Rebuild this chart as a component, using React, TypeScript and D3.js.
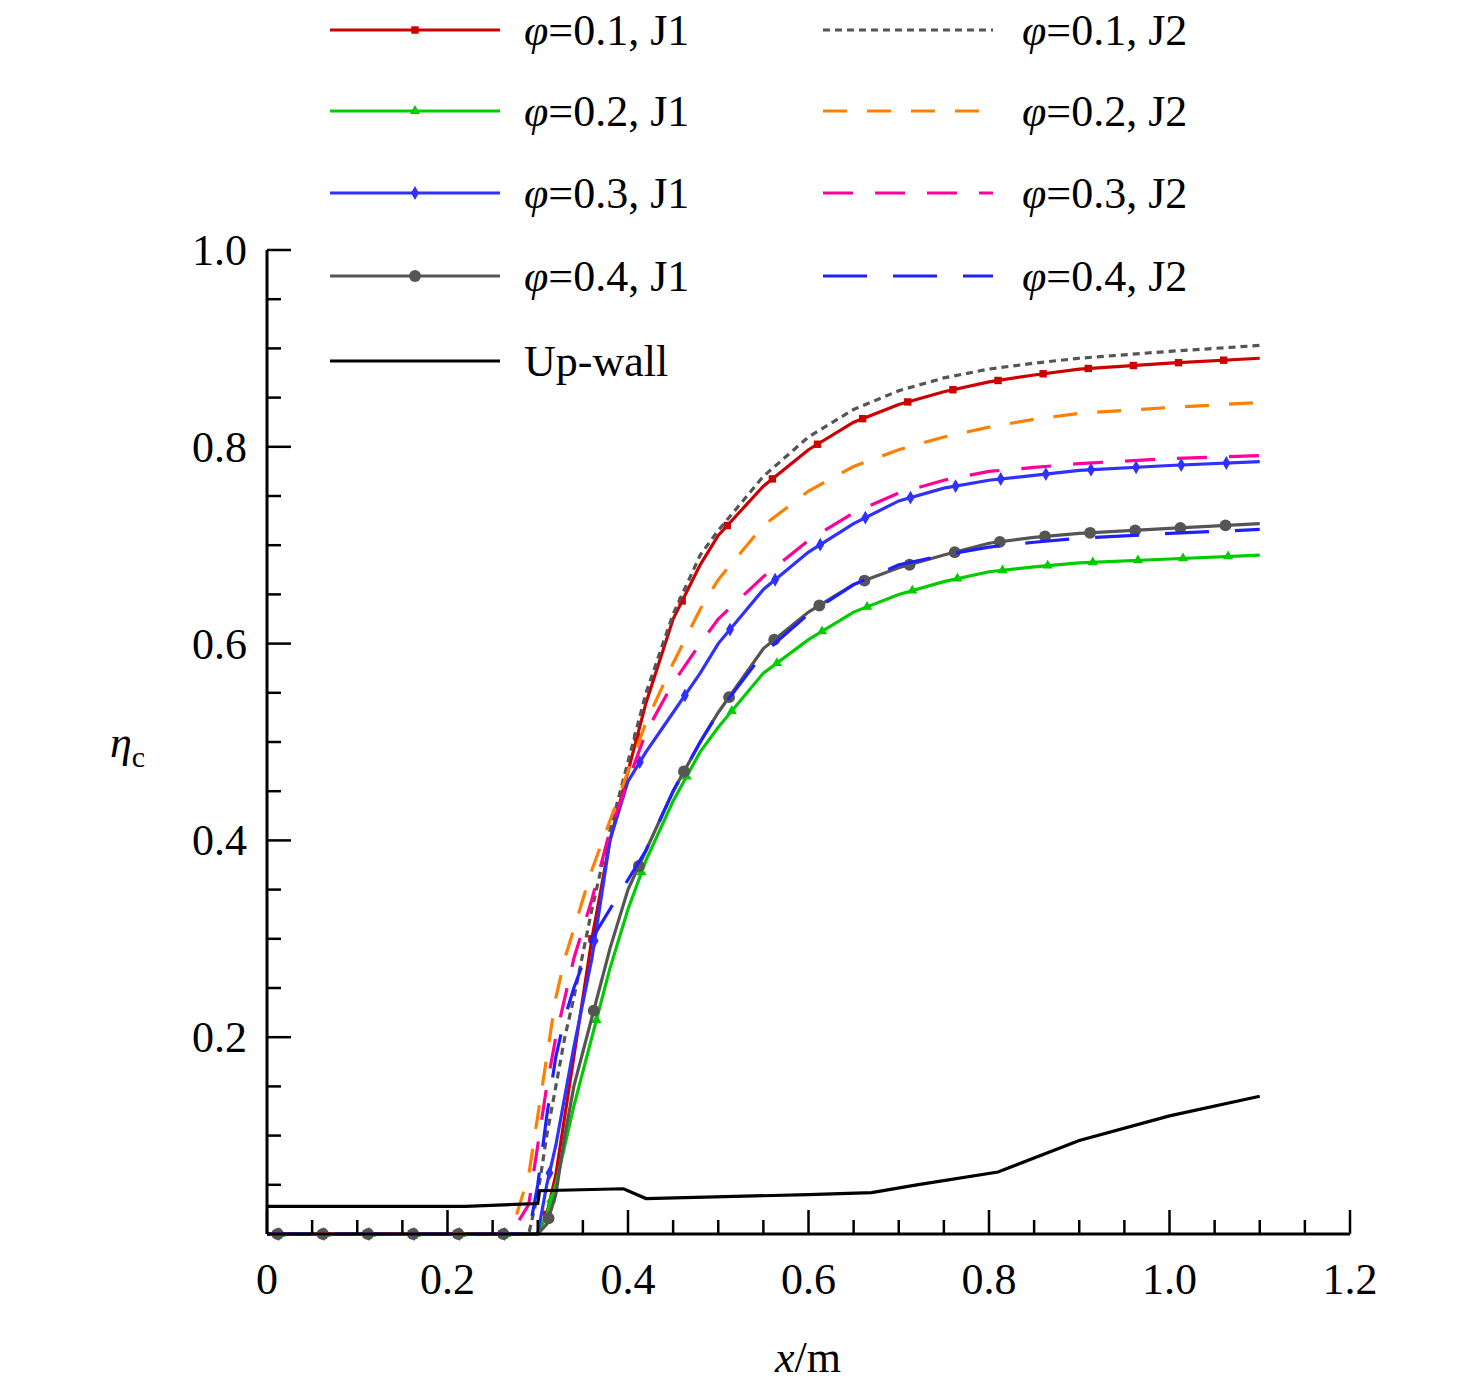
import React from 'react'
import * as d3 from 'd3'

// x positions (m) used by every series
const xs = [0.27, 0.29, 0.30, 0.31, 0.32, 0.33, 0.34, 0.36, 0.38, 0.40, 0.42, 0.45, 0.48, 0.5, 0.55, 0.6, 0.65, 0.7, 0.75, 0.8, 0.85, 0.9, 1.0, 1.1]

const j1p1 = [0, 0, 0, 0.02, 0.06, 0.12, 0.18, 0.3, 0.4, 0.47, 0.54, 0.625, 0.68, 0.71, 0.76, 0.797, 0.825, 0.843, 0.856, 0.866, 0.873, 0.879, 0.885, 0.89]
const j1p2 = [0, 0, 0, 0.02, 0.05, 0.09, 0.13, 0.2, 0.27, 0.33, 0.38, 0.44, 0.49, 0.515, 0.57, 0.604, 0.632, 0.65, 0.663, 0.673, 0.678, 0.682, 0.686, 0.69]
const j1p3 = [0, 0, 0, 0.05, 0.09, 0.14, 0.19, 0.28, 0.4, 0.46, 0.49, 0.53, 0.57, 0.6, 0.655, 0.693, 0.722, 0.745, 0.758, 0.766, 0.771, 0.776, 0.781, 0.785]
const j1p4 = [0, 0, 0, 0.01, 0.04, 0.1, 0.15, 0.22, 0.29, 0.35, 0.39, 0.45, 0.5, 0.53, 0.595, 0.632, 0.66, 0.677, 0.69, 0.702, 0.708, 0.712, 0.717, 0.722]
const j2p1 = [0, 0, 0.04, 0.1, 0.15, 0.2, 0.24, 0.33, 0.41, 0.48, 0.55, 0.63, 0.69, 0.715, 0.77, 0.81, 0.838, 0.857, 0.87, 0.879, 0.885, 0.89, 0.897, 0.903]
const j2p2 = [0, 0.06, 0.12, 0.18, 0.24, 0.28, 0.31, 0.37, 0.42, 0.47, 0.52, 0.58, 0.635, 0.665, 0.72, 0.755, 0.78, 0.797, 0.81, 0.82, 0.828, 0.834, 0.84, 0.845]
const j2p3 = [0, 0.03, 0.09, 0.15, 0.2, 0.24, 0.28, 0.34, 0.41, 0.46, 0.51, 0.56, 0.6, 0.625, 0.668, 0.705, 0.733, 0.753, 0.766, 0.775, 0.779, 0.783, 0.788, 0.791]
const j2p4 = [0, 0, 0.05, 0.12, 0.18, 0.22, 0.25, 0.3, 0.33, 0.36, 0.39, 0.45, 0.5, 0.53, 0.59, 0.63, 0.66, 0.68, 0.69, 0.698, 0.703, 0.707, 0.712, 0.716]

const wallX = [0, 0.22, 0.30, 0.302, 0.395, 0.42, 0.6, 0.67, 0.72, 0.81, 0.9, 1.0, 1.1]
const wallY = [0.028, 0.028, 0.031, 0.044, 0.046, 0.036, 0.04, 0.042, 0.05, 0.063, 0.095, 0.12, 0.14]

const xTicks = [0, 0.2, 0.4, 0.6, 0.8, 1.0, 1.2]
const xTickLabels = ['0', '0.2', '0.4', '0.6', '0.8', '1.0', '1.2']
const yTicks = [0.2, 0.4, 0.6, 0.8, 1.0]

type S = { name: string; vals: number[]; color: string; dash?: string; marker?: string; offset?: number; col: number; row: number }

const series: S[] = [
  { name: '0.1, J1', vals: j1p1, color: '#cc0000', marker: 'square', offset: 0.01, col: 0, row: 0 },
  { name: '0.2, J1', vals: j1p2, color: '#00cc00', marker: 'triangle', offset: 0.015, col: 0, row: 1 },
  { name: '0.3, J1', vals: j1p3, color: '#3030ff', marker: 'diamond', offset: 0.013, col: 0, row: 2 },
  { name: '0.4, J1', vals: j1p4, color: '#555555', marker: 'circle', offset: 0.012, col: 0, row: 3 },
  { name: '0.1, J2', vals: j2p1, color: '#555555', dash: '7,5', col: 1, row: 0 },
  { name: '0.2, J2', vals: j2p2, color: '#ff8000', dash: '24,20', col: 1, row: 1 },
  { name: '0.3, J2', vals: j2p3, color: '#ff0099', dash: '30,22', col: 1, row: 2 },
  { name: '0.4, J2', vals: j2p4, color: '#2020ff', dash: '44,26', col: 1, row: 3 },
]

const W = 1476, H = 1391
const x = d3.scaleLinear().domain([0, 1.2]).range([267, 1350])
const y = d3.scaleLinear().domain([0, 1]).range([1234, 250])
const font = '"Liberation Serif", "Times New Roman", serif'

const markerPath = (m: string) =>
  d3.symbol().type(m === 'square' ? d3.symbolSquare : m === 'triangle' ? d3.symbolTriangle : m === 'diamond' ? d3.symbolDiamond : d3.symbolCircle)
    .size(m === 'circle' ? 110 : m === 'triangle' ? 45 : 55)() as string

export default function App() {
  const line = d3.line<[number, number]>().x(d => x(d[0])).y(d => y(d[1]))
  const interp = (vals: number[], xv: number) => {
    if (xv <= xs[0]) return 0
    const i = d3.bisectLeft(xs, xv)
    if (i >= xs.length) return vals[vals.length - 1]
    const t = (xv - xs[i - 1]) / (xs[i] - xs[i - 1])
    return vals[i - 1] + t * (vals[i] - vals[i - 1])
  }
  const minor = d3.range(0, 1.2001, 0.05)
  const yMinor = d3.range(0.05, 1.0001, 0.05)
  const legX = [330, 823], legTX = [524, 1022], legY = [30, 111, 193, 276, 361]

  return (
    <svg width={W} height={H} style={{ position: 'absolute', left: 0, top: 0, background: '#fff' }} fontFamily={font}>
      {/* curves */}
      {series.map(s => {
        const pts: [number, number][] = [[0, 0], ...xs.map((xv, i) => [xv, s.vals[i]] as [number, number])]
        const mk = s.marker ? d3.range(s.offset!, 1.1, 0.05) : []
        return (
          <g key={s.name}>
            <path d={line(pts)!} fill="none" stroke={s.color} strokeWidth={3.2} strokeDasharray={s.dash} />
            {mk.map(m => (
              <path key={m} d={markerPath(s.marker!)} fill={s.color}
                transform={`translate(${x(m)},${y(interp(s.vals, m))})`} />
            ))}
          </g>
        )
      })}
      <path d={line(wallX.map((v, i) => [v, wallY[i]] as [number, number]))!} fill="none" stroke="#000" strokeWidth={3.2} />

      {/* axes */}
      <line x1={x(0)} x2={x(1.2)} y1={y(0)} y2={y(0)} stroke="#000" strokeWidth={3} />
      <line x1={x(0)} x2={x(0)} y1={y(0)} y2={y(1)} stroke="#000" strokeWidth={3} />
      {minor.map(t => {
        const major = xTicks.some(v => Math.abs(v - t) < 1e-6)
        return <line key={t} x1={x(t)} x2={x(t)} y1={y(0)} y2={y(0) - (major ? 24 : 14)} stroke="#000" strokeWidth={2.5} />
      })}
      {yMinor.map(t => {
        const major = yTicks.some(v => Math.abs(v - t) < 1e-6)
        return <line key={t} x1={x(0)} x2={x(0) + (major ? 24 : 14)} y1={y(t)} y2={y(t)} stroke="#000" strokeWidth={2.5} />
      })}
      {xTicks.map((t, i) => (
        <text key={t} x={x(t)} y={y(0) + 60} textAnchor="middle" fontSize={44}>{xTickLabels[i]}</text>
      ))}
      {yTicks.map(t => (
        <text key={t} x={x(0) - 20} y={y(t) + 15} textAnchor="end" fontSize={44}>{t.toFixed(1)}</text>
      ))}
      <text x={808} y={1372} textAnchor="middle" fontSize={44}><tspan fontStyle="italic">x</tspan>/m</text>
      <text x={110} y={757} fontSize={44}><tspan fontStyle="italic">η</tspan><tspan fontSize={30} dy={10}>c</tspan></text>

      {/* legend */}
      {series.map(s => {
        const ly = legY[s.row], lx = legX[s.col]
        return (
          <g key={'l' + s.name}>
            <line x1={lx} x2={lx + 170} y1={ly} y2={ly} stroke={s.color} strokeWidth={3.2} strokeDasharray={s.dash} />
            {s.marker && <path d={markerPath(s.marker)} fill={s.color} transform={`translate(${lx + 85},${ly})`} />}
            <text x={legTX[s.col]} y={ly + 15} fontSize={44}><tspan fontStyle="italic">φ</tspan>={s.name}</text>
          </g>
        )
      })}
      <line x1={330} x2={500} y1={legY[4]} y2={legY[4]} stroke="#000" strokeWidth={3.2} />
      <text x={524} y={legY[4] + 15} fontSize={44}>Up-wall</text>
    </svg>
  )
}
